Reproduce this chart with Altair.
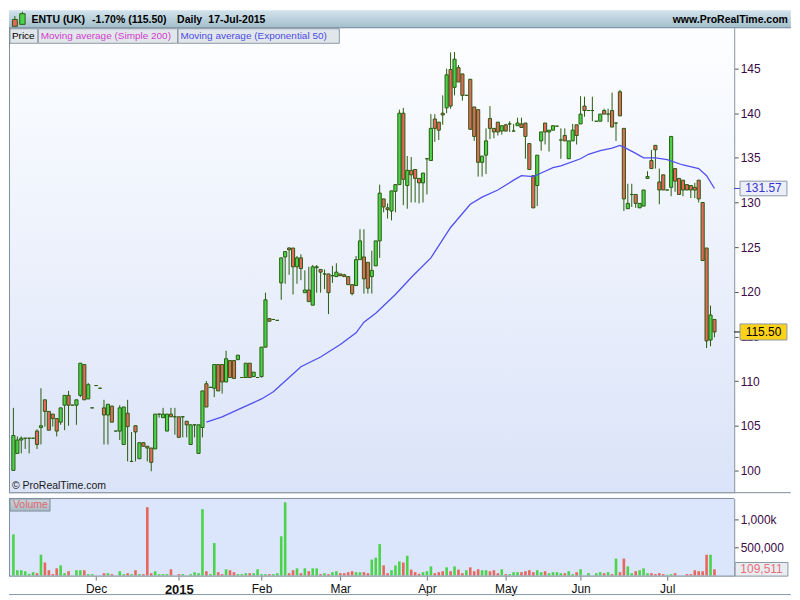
import altair as alt
import pandas as pd

# ------------------------------------------------------------------ data
opens = [100.0, 101.9, 103.4, 103.6, 103.6, 103.6, 104.4, 104.8, 107.9, 106.6,
         106.3, 105.8, 105.4, 107.3, 108.4, 107.3, 107.3, 108.4, 111.85, 108.0,
         107.0, 109.5, 109.2, 107.0, 106.2, 107.2, 104.4, 104.4, 102.9, 106.4,
         101.0, 105.0, 101.3, 103.1, 102.7, 102.5, 102.4, 106.3, 105.9, 104.4,
         106.3, 106.0, 106.0, 106.0, 105.5, 102.9, 105.1, 101.9, 104.8, 109.7,
         109.3, 109.2, 111.85, 111.85, 109.9, 112.3, 112.3, 112.4, 110.4, 110.4,
         112.0, 110.5, 110.4, 110.5, 113.8, 117.0, 116.9, 116.8, 121.0, 123.9,
         124.9, 124.9, 122.8, 123.8, 119.9, 120.2, 118.5, 122.7, 122.5, 122.0,
         122.0, 121.8, 121.7, 122.0, 121.9, 121.7, 120.8, 120.7, 123.6, 123.9,
         123.3, 121.7, 122.9, 125.7, 130.4, 129.4, 129.05, 131.25, 132.0, 140.0,
         131.9, 133.6, 133.7, 132.7, 132.2, 134.9, 134.7, 139.35, 139.0, 140.0,
         140.6, 144.9, 142.9, 145.1, 144.4, 142.0, 143.8, 140.7, 140.4, 134.5,
         135.3, 139.4, 138.3, 139.0, 138.0, 138.7, 138.8, 138.0, 138.6, 138.8,
         138.9, 136.6, 133.0, 131.9, 136.9, 138.9, 137.9, 138.1, 138.55, 137.0,
         137.5, 134.9, 136.9, 138.7, 138.8, 140.8, 140.3, 140.3, 139.1, 139.1,
         140.3, 139.9, 140.3, 138.9, 142.4, 138.3, 129.3, 130.9, 130.9, 129.4,
         129.6, 132.7, 134.7, 136.4, 132.3, 133.1, 131.4, 131.7, 133.8, 132.7,
         132.5, 132.0, 131.9, 131.7, 132.5, 130.0, 124.9, 114.6, 116.9]
highs = [107.0, 103.8, 103.8, 103.6, 103.6, 103.6, 104.6, 109.2, 107.9, 106.6,
         106.3, 105.8, 107.0, 108.4, 108.9, 107.3, 107.9, 112.0, 111.85, 109.8,
         107.0, 109.5, 109.2, 107.9, 107.4, 107.2, 104.4, 107.3, 107.1, 107.9,
         104.3, 105.0, 103.1, 103.1, 102.7, 102.5, 106.3, 106.3, 107.0, 106.3,
         107.0, 107.0, 106.0, 106.0, 105.5, 105.1, 105.1, 105.1, 108.9, 110.0,
         109.3, 111.85, 111.85, 111.85, 113.4, 112.3, 112.3, 112.9, 110.4, 112.0,
         112.0, 111.0, 110.4, 113.8, 119.9, 117.0, 116.9, 116.8, 123.8, 124.5,
         125.0, 124.9, 124.0, 124.2, 122.4, 122.8, 123.0, 123.0, 122.5, 122.5,
         122.0, 122.9, 123.2, 122.0, 122.0, 121.7, 120.8, 124.0, 127.0, 127.0,
         123.3, 124.6, 125.7, 132.0, 130.4, 129.9, 131.3, 132.0, 140.4, 140.6,
         135.2, 135.1, 133.7, 132.7, 133.3, 134.9, 139.9, 139.9, 139.0, 142.0,
         145.0, 146.8, 146.85, 145.4, 144.4, 142.0, 143.8, 140.7, 140.4, 135.2,
         138.3, 140.8, 138.3, 139.0, 138.6, 138.8, 139.1, 138.8, 139.5, 139.5,
         138.9, 136.6, 133.0, 135.3, 137.9, 138.9, 138.1, 138.6, 138.55, 138.3,
         138.3, 136.9, 138.8, 138.7, 141.9, 141.85, 140.3, 141.85, 139.1, 139.9,
         140.5, 140.5, 142.3, 138.9, 142.6, 138.3, 132.1, 132.1, 130.9, 129.9,
         131.4, 133.5, 135.9, 136.4, 133.8, 133.1, 131.4, 137.4, 133.8, 132.7,
         132.5, 132.0, 131.9, 132.2, 132.5, 130.0, 124.9, 118.45, 116.9]
lows = [100.0, 101.9, 101.9, 102.4, 101.9, 103.6, 102.4, 102.9, 104.9, 104.5,
        104.9, 103.8, 105.1, 104.5, 105.0, 107.3, 105.1, 108.2, 107.9, 108.0,
        107.0, 109.5, 109.2, 102.9, 102.9, 105.4, 104.4, 103.4, 102.9, 101.0,
        101.0, 101.0, 101.3, 102.7, 101.0, 99.9, 102.4, 105.9, 105.9, 104.4,
        106.0, 104.0, 103.7, 103.7, 103.7, 102.9, 103.7, 101.9, 103.7, 107.1,
        109.3, 108.2, 108.9, 108.6, 109.9, 110.4, 110.3, 112.4, 110.4, 110.4,
        110.4, 110.5, 110.4, 110.4, 113.8, 116.7, 116.9, 116.8, 119.1, 120.9,
        121.9, 119.7, 120.9, 121.3, 119.9, 118.9, 118.5, 119.9, 119.9, 120.3,
        117.5, 121.0, 121.7, 121.8, 121.7, 120.8, 119.6, 120.7, 123.6, 119.8,
        119.8, 119.8, 122.9, 123.8, 128.9, 128.2, 128.0, 128.9, 132.0, 129.7,
        129.3, 130.0, 130.0, 129.9, 130.0, 130.9, 134.7, 136.8, 137.0, 138.7,
        140.0, 140.5, 142.0, 143.5, 141.4, 142.0, 138.2, 136.9, 132.9, 132.9,
        133.2, 137.1, 137.2, 137.5, 137.6, 138.0, 137.9, 138.0, 138.6, 138.4,
        134.9, 133.7, 129.4, 129.6, 135.8, 136.5, 135.7, 138.1, 138.55, 134.9,
        136.9, 134.9, 136.9, 136.5, 138.8, 139.6, 140.3, 139.1, 139.1, 139.1,
        139.9, 139.0, 138.45, 136.9, 139.7, 129.05, 129.3, 129.5, 129.4, 129.4,
        129.6, 132.7, 133.8, 133.8, 129.8, 131.4, 131.4, 130.7, 131.2, 130.9,
        130.7, 131.4, 130.5, 130.5, 130.0, 123.5, 113.7, 113.9, 114.9]
closes = [103.9, 103.4, 103.6, 103.6, 103.6, 103.6, 102.9, 105.0, 106.6, 104.5,
          105.8, 104.4, 107.0, 108.4, 107.3, 107.3, 107.9, 112.0, 107.9, 109.6,
          107.0, 109.5, 109.2, 106.2, 107.4, 105.4, 104.4, 107.0, 107.1, 104.9,
          101.0, 104.3, 103.1, 102.7, 102.5, 100.9, 106.3, 106.3, 106.3, 106.3,
          106.0, 106.0, 103.7, 106.0, 105.1, 105.1, 105.1, 105.1, 108.9, 107.1,
          109.3, 111.85, 108.9, 109.9, 112.5, 110.4, 110.3, 112.9, 110.4, 112.0,
          110.4, 111.0, 110.4, 113.8, 119.1, 116.7, 116.9, 116.8, 123.8, 124.5,
          124.7, 122.8, 123.8, 122.6, 120.2, 118.9, 122.8, 122.8, 122.2, 122.0,
          119.9, 121.8, 122.2, 121.8, 121.7, 120.8, 119.8, 123.6, 125.7, 121.45,
          120.4, 122.4, 125.7, 131.05, 129.5, 129.2, 131.3, 132.0, 140.0, 132.6,
          133.6, 133.1, 132.7, 132.2, 133.3, 134.9, 138.3, 138.3, 138.1, 139.8,
          144.3, 140.8, 146.05, 143.5, 142.0, 142.0, 138.2, 137.4, 134.5, 135.2,
          136.9, 138.3, 137.9, 137.9, 138.6, 138.0, 138.8, 138.0, 138.9, 138.4,
          137.4, 133.7, 129.4, 135.3, 137.9, 137.9, 138.1, 138.6, 138.55, 137.0,
          136.9, 136.9, 138.1, 137.5, 139.9, 140.3, 140.3, 140.3, 139.1, 139.9,
          139.9, 139.9, 138.45, 138.9, 139.7, 130.4, 129.9, 130.9, 129.9, 129.9,
          131.4, 132.9, 133.8, 135.9, 131.4, 131.4, 131.4, 137.4, 132.4, 130.9,
          131.4, 131.4, 131.4, 131.4, 130.4, 123.5, 114.5, 117.4, 115.5]
volumes_k = [735, 93, 93, 75, 29, 58, 40, 370, 231, 93,
             23, 127, 179, 40, 75, 0, 93, 93, 93, 23,
             23, 0, 0, 40, 40, 23, 0, 75, 23, 40,
             23, 93, 23, 23, 1221, 40, 75, 23, 23, 23,
             110, 0, 23, 23, 0, 23, 58, 40, 1186, 75,
             23, 579, 58, 23, 110, 93, 58, 23, 23, 40,
             40, 40, 110, 23, 23, 23, 23, 40, 700, 1308,
             40, 93, 127, 40, 127, 75, 127, 127, 23, 40,
             23, 58, 75, 40, 40, 58, 75, 58, 58, 58,
             40, 283, 318, 561, 179, 40, 93, 179, 249, 231,
             353, 104, 58, 29, 58, 75, 162, 40, 58, 75,
             145, 75, 162, 104, 40, 93, 145, 75, 110, 93,
             93, 75, 93, 40, 110, 23, 23, 58, 58, 58,
             75, 93, 58, 93, 58, 75, 40, 58, 58, 40,
             40, 75, 23, 58, 110, 0, 40, 0, 40, 58,
             40, 58, 23, 301, 58, 301, 162, 40, 75, 93,
             127, 40, 40, 23, 40, 23, 12, 23, 40, 0,
             0, 23, 23, 93, 75, 75, 370, 370, 109.511]
ema_days = [49, 53, 58, 63, 66, 70, 73, 78, 83, 87, 89, 92, 97, 101, 106, 111,
            116, 119, 123, 127, 129, 132, 134, 137, 139, 144, 146, 149, 152,
            154, 155, 158, 160, 163, 166, 170, 174, 176, 178]
ema_values = [105.4, 106.0, 107.0, 108.0, 108.8, 110.4, 111.6, 112.7, 114.1,
              115.4, 116.6, 117.6, 119.7, 121.6, 123.8, 127.2, 129.8, 130.6,
              131.4, 132.5, 133.0, 132.9, 133.3, 133.9, 134.1, 134.9, 135.4,
              135.8, 136.1, 136.4, 136.2, 135.5, 135.0, 135.0, 134.8, 134.2,
              133.8, 133.0, 131.57]
month_days = [21, 42, 63, 83, 105, 125, 144, 166]
month_names = ["Dec", "2015", "Feb", "Mar", "Apr", "May", "Jun", "Jul"]
price_ticks = [100, 105, 110, 115, 120, 125, 130, 135, 140, 145]
vol_ticks = [500000, 1000000]
vol_tick_names = ["500,000", "1,000k"]
last_close = 115.50
last_ema = 131.57
last_volume = 109511
header_texts = ["ENTU (UK)", "-1.70% (115.50)", "Daily", "17-Jul-2015"]
legend_texts = ["Price", "Moving average (Simple 200)", "Moving average (Exponential 50)"]

# ------------------------------------------------------------------ layout
FONT = "Liberation Sans"
SX, SY = 0.98, 0.9733
def px(x):
    return round(x * SX, 2)
def py(y):
    return round((y - 18) * SY, 2)
def vy(y):
    return round((y - 500) * SY, 2)

W = px(742)
H_P = py(497)
H_V = round(80 * SY, 2)
FULL = px(800)

GREEN, RED, DARK = "#4cd34c", "#e6675c", "#2a5c10"
VGREEN, VRED = "#52d152", "#e0625e"
GRID = "#7f8f9d"

XS = alt.Scale(domain=[-1.117, 183.0], nice=False, zero=False)
YP = alt.Scale(domain=[97.5, 149.57], nice=False, zero=False)
YV = alt.Scale(domain=[-12000, 1377000], nice=False, zero=False)

ONE = pd.DataFrame({"k": [0]})

n = len(closes)
cdf = pd.DataFrame({"i": list(range(n)), "open": opens, "high": highs,
                    "low": lows, "close": closes})
cdf["dir"] = ["up" if c >= o else "down" for o, c in zip(opens, closes)]
cdf["x0"] = cdf["i"] - 0.4
cdf["x1"] = cdf["i"] + 0.4

vdf = pd.DataFrame({"i": list(range(n)), "vol": [v * 1000 for v in volumes_k]})
vdf["dir"] = cdf["dir"]
vdf["x0"] = vdf["i"] - 0.33
vdf["x1"] = vdf["i"] + 0.33
vdf["base"] = 0

edf = pd.DataFrame({"i": ema_days, "v": ema_values})


def box(x1, x2, y1, y2, fill, stroke=None):
    kw = {"fill": fill}
    if stroke:
        kw.update(stroke=stroke, strokeWidth=1)
    return alt.Chart(ONE).mark_rect(**kw).encode(
        x=alt.value(x1), x2=alt.value(x2), y=alt.value(y1), y2=alt.value(y2))


def hline(x1, x2, y, color=GRID):
    return alt.Chart(ONE).mark_rule(color=color, strokeWidth=1).encode(
        x=alt.value(x1), x2=alt.value(x2), y=alt.value(y))


def vline(x, y1, y2, color=GRID):
    return alt.Chart(ONE).mark_rule(color=color, strokeWidth=1).encode(
        x=alt.value(x), y=alt.value(y1), y2=alt.value(y2))


def label(txt, x, y, size=10.5, color="#000000", weight="normal", align="left"):
    return alt.Chart(ONE).mark_text(
        text=txt, fontSize=size, color=color, fontWeight=weight, align=align,
        baseline="middle", font=FONT).encode(x=alt.value(x), y=alt.value(y))


def vgrad(top, bottom):
    return {"gradient": "linear", "x1": 0, "x2": 0, "y1": 0, "y2": 1,
            "stops": [{"offset": 0, "color": top}, {"offset": 1, "color": bottom}]}


# ------------------------------------------------------------------ price panel
price_axis = alt.Axis(orient="right", values=price_ticks, format="d", title=None,
                      grid=False, tickSize=4, tickColor="#555555",
                      domainColor=GRID, labelColor="#3c0a46", labelFont=FONT,
                      labelFontSize=12, labelPadding=2)


def py_enc(field):
    return alt.Y(field, scale=YP, axis=price_axis)


bg = box(0, W, 0, H_P, vgrad("#fdfeff", "#dae3f8"))

wicks = alt.Chart(cdf).mark_rule(color=DARK, strokeWidth=1).encode(
    x=alt.X("i:Q", scale=XS, axis=None),
    y=py_enc("low:Q"), y2="high:Q")

bodies = alt.Chart(cdf).mark_rect(stroke=DARK, strokeWidth=1).encode(
    x=alt.X("x0:Q", scale=XS, axis=None), x2="x1:Q",
    y=py_enc("open:Q"), y2="close:Q",
    fill=alt.Fill("dir:N", scale=alt.Scale(domain=["up", "down"], range=[GREEN, RED]),
                  legend=None))

ema = alt.Chart(edf).mark_line(color="#5050f0", strokeWidth=1.3).encode(
    x=alt.X("i:Q", scale=XS, axis=None), y=py_enc("v:Q"))


def price_tag(value, half, fill, text_color, tick_color):
    d = pd.DataFrame({"v": [value], "lo": [value - half], "hi": [value + half],
                      "t": [f"{value:.2f}"]})
    base = alt.Chart(d)
    return [
        base.mark_rule(color=tick_color, strokeWidth=1).encode(
            x=alt.value(W), x2=alt.value(px(748)), y=py_enc("v:Q")),
        base.mark_rect(fill=fill, stroke="#8a98a8", strokeWidth=1).encode(
            x=alt.value(px(748)), x2=alt.value(px(796)), y=py_enc("lo:Q"), y2="hi:Q"),
        base.mark_text(fontSize=12, font=FONT, color=text_color, align="center",
                       baseline="middle").encode(
            x=alt.value(px(772)), y=py_enc("v:Q"), text="t:N"),
    ]


tags = price_tag(last_ema, 0.82, "#eceff9", "#3535d0", "#4040e0") + \
    price_tag(last_close, 0.9, "#ffd21a", "#000000", "#000000")

header = [
    box(0, FULL, py(0), 0, vgrad("#d2e3ec", "#a3bfcb")),
    hline(0, FULL, 0, "#73889a"),
    vline(px(6), py(6), py(10), DARK),
    box(px(3.5), px(8.5), py(9.5), py(16.5), RED, DARK),
    vline(px(13.7), py(1.5), py(4), DARK),
    box(px(11), px(16.5), py(3.5), py(14.5), GREEN, DARK),
    label(header_texts[0], px(23), py(9.5), weight="bold"),
    label(header_texts[1], px(85), py(9.5), weight="bold"),
    label(header_texts[2], px(172), py(9.5), weight="bold"),
    label(header_texts[3], px(204), py(9.5), weight="bold"),
    label("www.ProRealTime.com", px(797), py(9.5), weight="bold", align="right"),
]

legend = [
    box(px(1), px(29.5), py(19), py(34), "#e1e6ea", "#8c9ba6"),
    box(px(30), px(172.5), py(19), py(34), "#e1e6ea", "#8c9ba6"),
    box(px(173), px(338), py(19), py(34), "#e1e6ea", "#8c9ba6"),
    label(legend_texts[0], px(3), py(27), size=10),
    label(legend_texts[1], px(32.5), py(27), size=10, color="#d23ccf"),
    label(legend_texts[2], px(175.5), py(27), size=10, color="#4c4ce6"),
]

price_borders = [vline(0.5, 0, H_P), hline(0, FULL, H_P)]

copyright_txt = label("\u00a9 ProRealTime.com", px(3), py(490), size=10.5, color="#1a1a1a")

price = alt.layer(
    bg, wicks, bodies, ema, *tags, copyright_txt, *legend, *header, *price_borders
).properties(width=W, height=H_P)

# ------------------------------------------------------------------ volume panel
label_expr = " : ".join(f"datum.value == {d} ? '{m}'" for d, m in zip(month_days, month_names)) + " : ''"
vlabel_expr = " : ".join(f"datum.value == {v} ? '{t}'" for v, t in zip(vol_ticks, vol_tick_names)) + " : ''"
bold_day = month_days[month_names.index("2015")]

x_axis = alt.Axis(values=month_days, labelExpr=label_expr, title=None, grid=False,
                  domain=False, tickSize=4, tickColor="#6a7a88", labelColor="#111111",
                  labelFont=FONT, labelPadding=3,
                  labelFontSize={"condition": {"test": f"datum.value == {bold_day}", "value": 13},
                                 "value": 12},
                  labelFontWeight={"condition": {"test": f"datum.value == {bold_day}", "value": "bold"},
                                   "value": "normal"})
vol_axis = alt.Axis(orient="right", values=vol_ticks, labelExpr=vlabel_expr, title=None,
                    grid=False, tickSize=4, tickColor="#555555", domainColor=GRID,
                    labelColor="#3c0a46", labelFont=FONT, labelFontSize=12, labelPadding=2)


def vy_enc(field):
    return alt.Y(field, scale=YV, axis=vol_axis)


vbg = box(0, W, 0, H_V, "#dbe5fb")

vbars = alt.Chart(vdf).mark_rect().encode(
    x=alt.X("x0:Q", scale=XS, axis=x_axis), x2="x1:Q",
    y=vy_enc("vol:Q"), y2="base:Q",
    fill=alt.Fill("dir:N", scale=alt.Scale(domain=["up", "down"], range=[VGREEN, VRED]),
                  legend=None))

vtag = pd.DataFrame({"v": [last_volume], "lo": [last_volume - 122000],
                     "hi": [last_volume + 122000], "t": [f"{last_volume:,}"]})
vtag_layers = [
    alt.Chart(vtag).mark_rule(color="#e06a72", strokeWidth=1).encode(
        x=alt.value(W), x2=alt.value(px(743)), y=vy_enc("v:Q")),
    alt.Chart(vtag).mark_rect(fill="#e9edf1", stroke="#8a98a6", strokeWidth=1).encode(
        x=alt.value(px(743)), x2=alt.value(px(797)), y=vy_enc("lo:Q"), y2="hi:Q"),
    alt.Chart(vtag).mark_text(fontSize=12, font=FONT, color="#e8707a",
                              align="center", baseline="middle").encode(
        x=alt.value(px(770)), y=vy_enc("v:Q"), text="t:N"),
]

vol_label = [
    box(px(1), px(42), vy(500.5), vy(513), vgrad("#c9d5dc", "#a9b9c2"), "#8090a0"),
    label("Volume", px(4), vy(507), size=10.5, color="#e06a72"),
]
vol_borders = [
    vline(0.5, 0, H_V),
    hline(0, W, 0),
    hline(0, W, H_V),
    hline(0, FULL, vy(599), "#8a9aa6"),
]

volume = alt.layer(
    vbg, vbars, *vtag_layers, *vol_label, *vol_borders
).properties(width=W, height=H_V)

chart = alt.vconcat(price, volume, spacing=3).properties(
    padding=0, background="white"
).configure_view(stroke=None).configure(font=FONT)

chart.save("out.html", embed_options={"renderer": "svg", "actions": False})
